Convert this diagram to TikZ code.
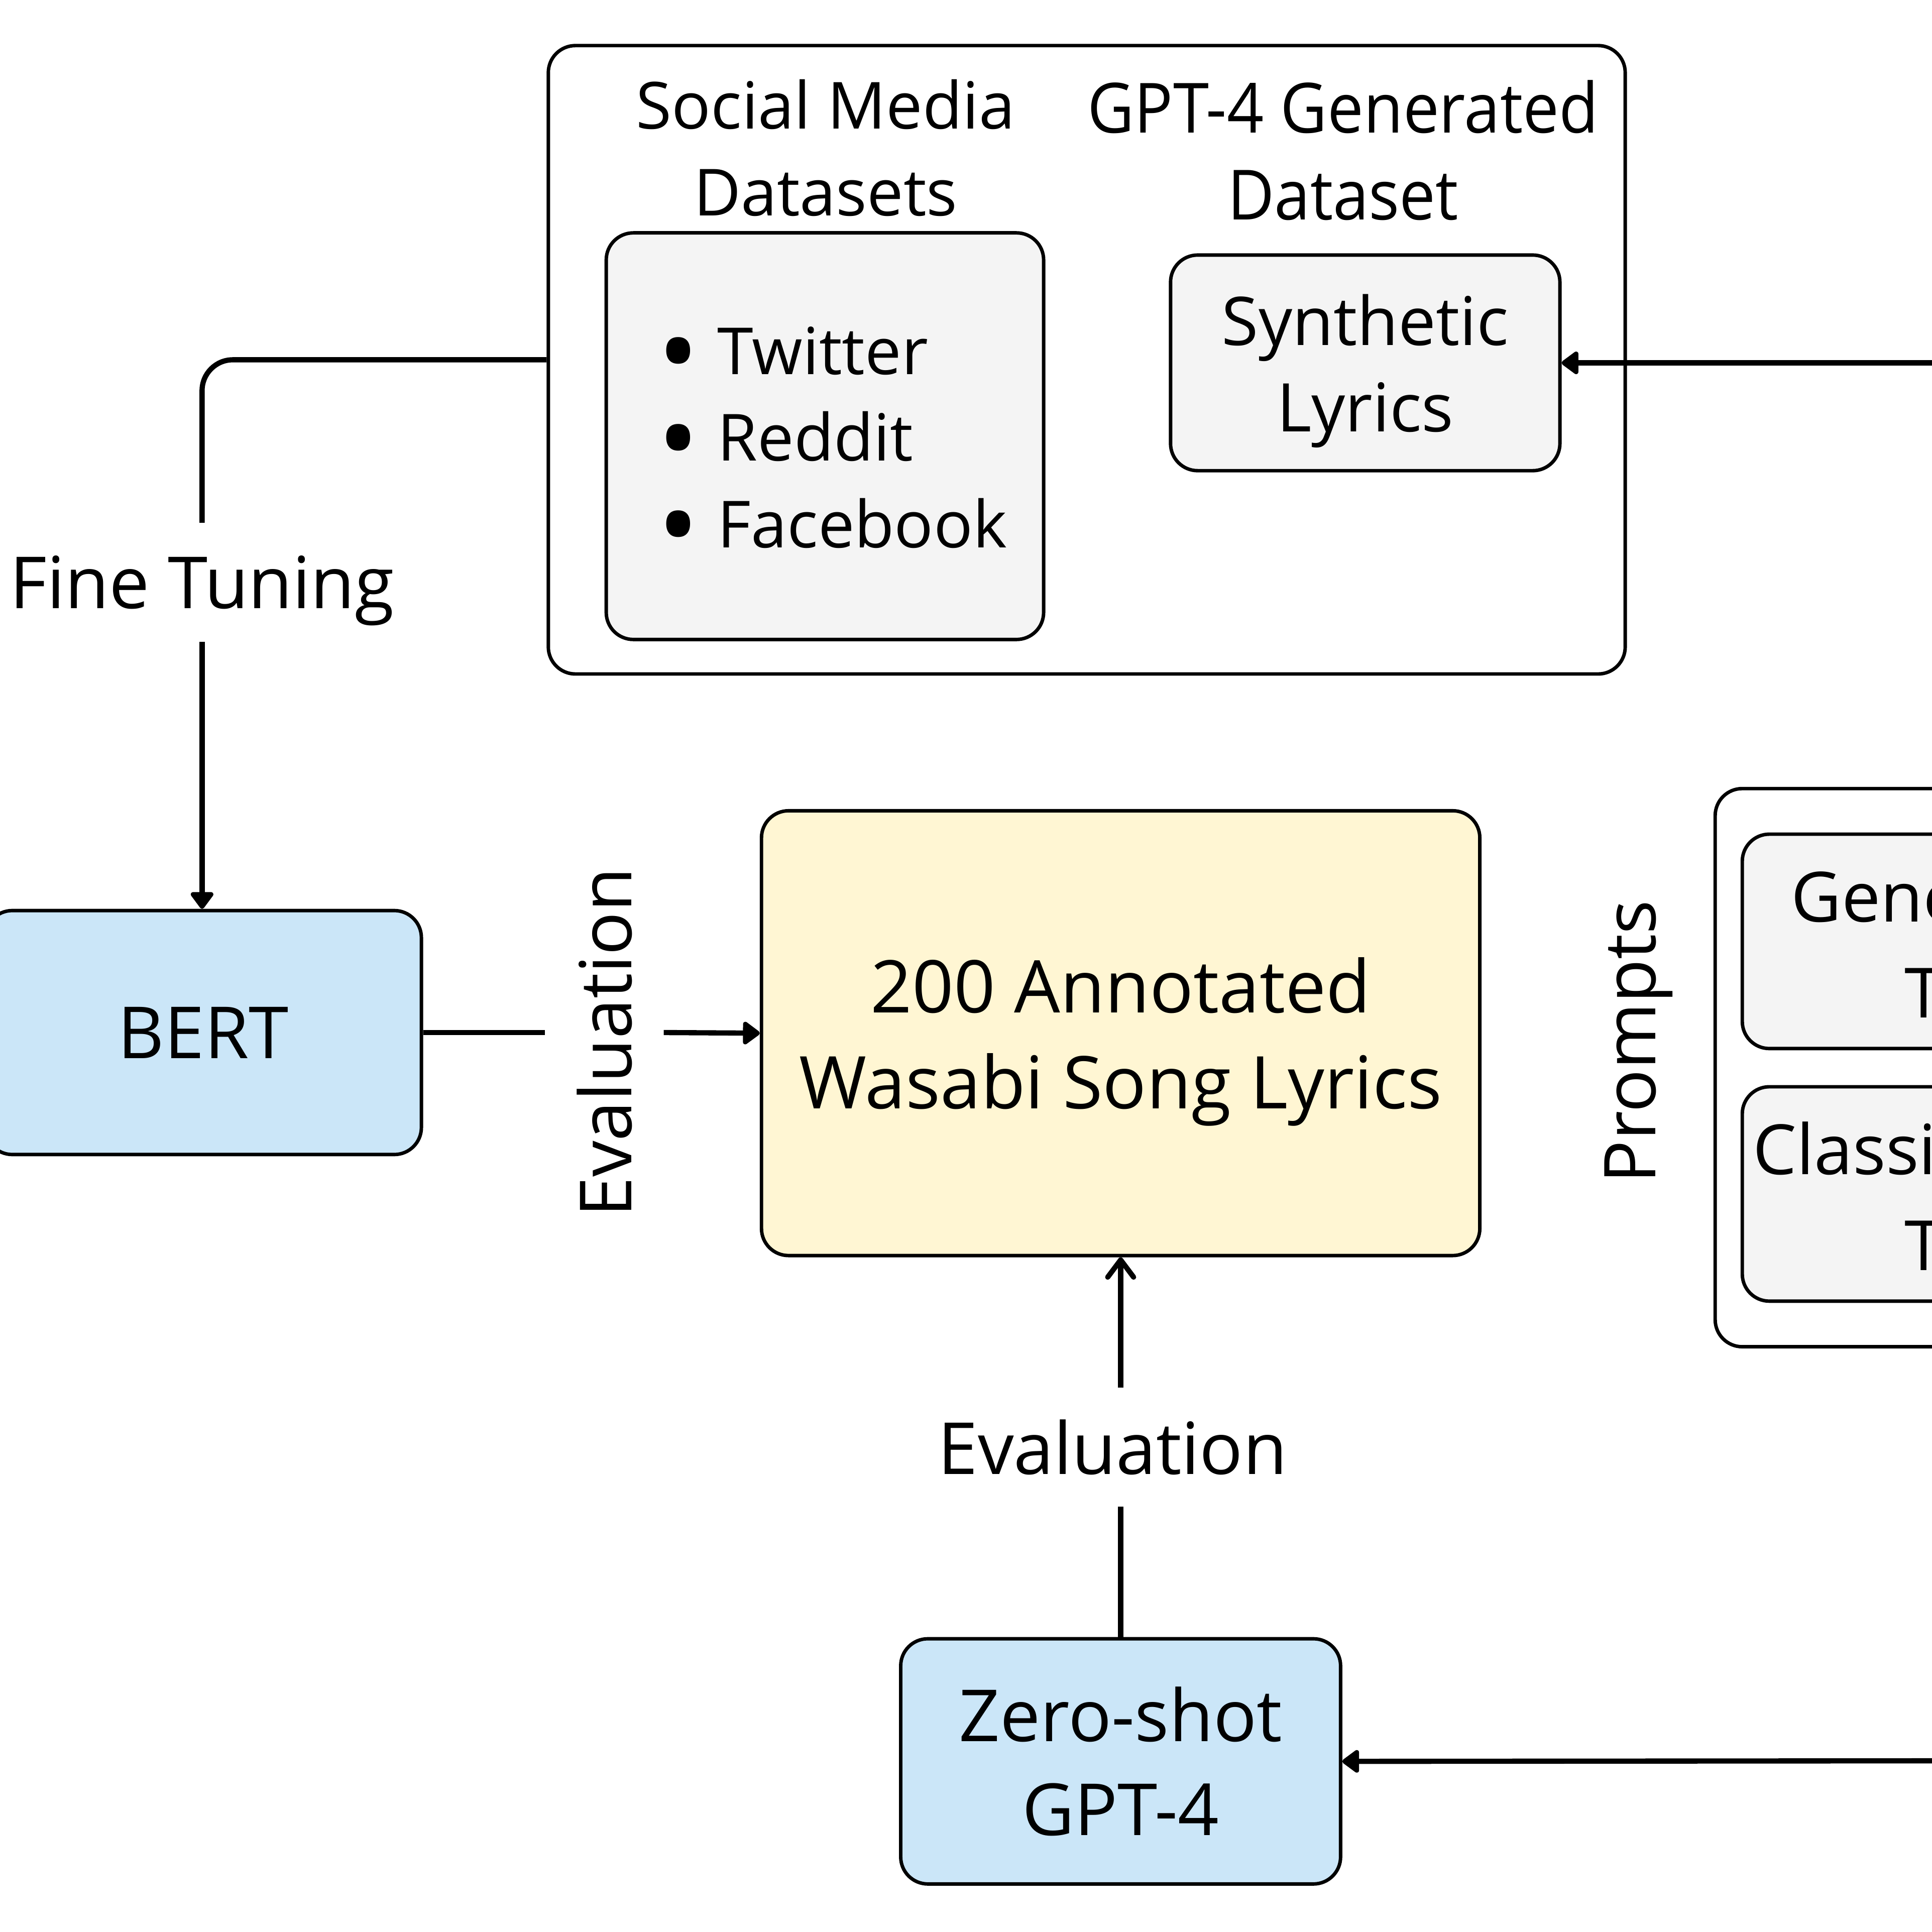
\documentclass[tikz,border=0pt]{standalone}
\usepackage{fontspec}
\setmainfont{Open Sans}
\newfontfamily\narrowfont[FakeStretch=0.93]{Open Sans}
\usetikzlibrary{arrows.meta,positioning}

\definecolor{boxgray}{HTML}{F4F4F4}
\definecolor{boxblue}{HTML}{CBE6F8}
\definecolor{boxyellow}{HTML}{FFF6D3}

\newcommand{\bigdot}{\raisebox{-0.26em}[0pt][0pt]{\scalebox{1.7}{\textbullet}}\hspace{0.15cm}}

\tikzset{
  frame/.style={draw, line width=0.8pt, rounded corners=0.22cm, inner sep=0pt},
  graybox/.style={frame, fill=boxgray},
  bluebox/.style={frame, fill=boxblue, align=center, font=\fontsize{16.6}{21.6}\selectfont},
  textlabel/.style={inner sep=0pt, minimum height=0.95cm, font=\fontsize{16.6}{20}\selectfont},
  conn/.style={line width=1.2pt},
  tip/.style={-{Triangle[round, length=0.15cm, width=0.21cm]}}
}

\begin{document}
\begin{tikzpicture}
    \useasboundingbox (0,0) rectangle (15.68,-15.68);
    \clip (0,0) rectangle (15.68,-15.68);

    % Datasets
    \node[frame, minimum width=8.74cm, minimum height=5.10cm] (data) at (8.82,-2.92) {};
    \node[align=center, font=\fontsize{15}{20}\selectfont] (socialtitle) at (6.70,-1.20) {Social Media\\Datasets};
    \node[graybox, minimum width=3.55cm, minimum height=3.30cm] (social) at (6.695,-3.54) {};
    \node[anchor=west, align=left, inner sep=0pt, font=\fontsize{15}{20}\selectfont] (sources) at (5.33,-3.55)
        {\bigdot Twitter\\\bigdot Reddit\\\bigdot Facebook};
    \node[align=center, font=\narrowfont\fontsize{16}{20}\selectfont] (gpttitle) at (10.90,-1.22) {GPT-4 Generated\\Dataset};
    \node[graybox, minimum width=3.16cm, minimum height=1.75cm, align=center, text depth=0pt,
        font=\fontsize{15.5}{20}\selectfont] (synth) at (11.08,-2.945) {Synthetic\\Lyrics};

    % Models and test set
    \node[bluebox, minimum width=3.54cm, minimum height=1.98cm] (bert) at (1.65,-8.38) {BERT};
    \node[frame, fill=boxyellow, minimum width=5.83cm, minimum height=3.61cm, align=center, text depth=0pt,
        font=\fontsize{16.8}{22.2}\selectfont] (anno) at (9.095,-8.385) {200 Annotated\\Wasabi Song Lyrics};
    \node[bluebox, minimum width=3.57cm, minimum height=1.99cm] (zero) at (9.095,-14.295) {Zero-shot\\GPT-4};

    % Prompts
    \node[rotate=90, font=\fontsize{16.5}{20}\selectfont] (prompts) at (13.30,-8.455) {Prompts};
    \node[frame, minimum width=5.08cm, minimum height=4.53cm] (promptbox) at (16.46,-8.665) {};
    \node[graybox, minimum width=4.64cm, minimum height=1.74cm] (gen) at (16.46,-7.64) {};
    \node[graybox, minimum width=4.64cm, minimum height=1.74cm] (cls) at (16.46,-9.69) {};
    \node[anchor=base west, inner sep=0pt, font=\fontsize{16}{20}\selectfont] (genA) at (14.53,-7.48) {Generation};
    \node[anchor=base west, inner sep=0pt, font=\fontsize{16}{20}\selectfont] (genB) at (15.45,-8.26) {Template};
    \node[anchor=base west, inner sep=0pt, font=\fontsize{16}{20}\selectfont] (clsA) at (14.22,-9.53) {Classification};
    \node[anchor=base west, inner sep=0pt, font=\fontsize{16}{20}\selectfont] (clsB) at (15.45,-10.31) {Template};

    % Labels on the connectors
    \node[textlabel, text depth=0pt] (tune) at (1.64,-4.725) {Fine Tuning};
    \node[textlabel, rotate=90] (evalA) at (4.905,-8.46) {Evaluation};
    \node[textlabel] (evalB) at (9.03,-11.745) {Evaluation};

    % Connectors
    \draw[conn, rounded corners=0.25cm] (data.west) -| (tune.north -| 1.64,0);
    \draw[conn, tip] (1.64,0 |- tune.south) -- (1.64,0 |- bert.north);
    \draw[conn] (bert.east) -- (bert.east -| evalA.north);
    \draw[conn, tip] (bert.east -| evalA.south) -- (anno.west);
    \draw[conn] (zero.north) -- (zero.north |- evalB.south);
    \draw[conn, -{Straight Barb[round, length=0.14cm, width=0.21cm]}] (zero.north |- evalB.north) -- (anno.south);
    \coordinate (synthin) at (16.2,-2.945);
    \draw[conn, tip] (synthin) -- (synth.east);
    \coordinate (zeroin) at (16.2,-14.29);
    \draw[conn, tip] (zeroin) -- (zero.east);
\end{tikzpicture}
\end{document}
